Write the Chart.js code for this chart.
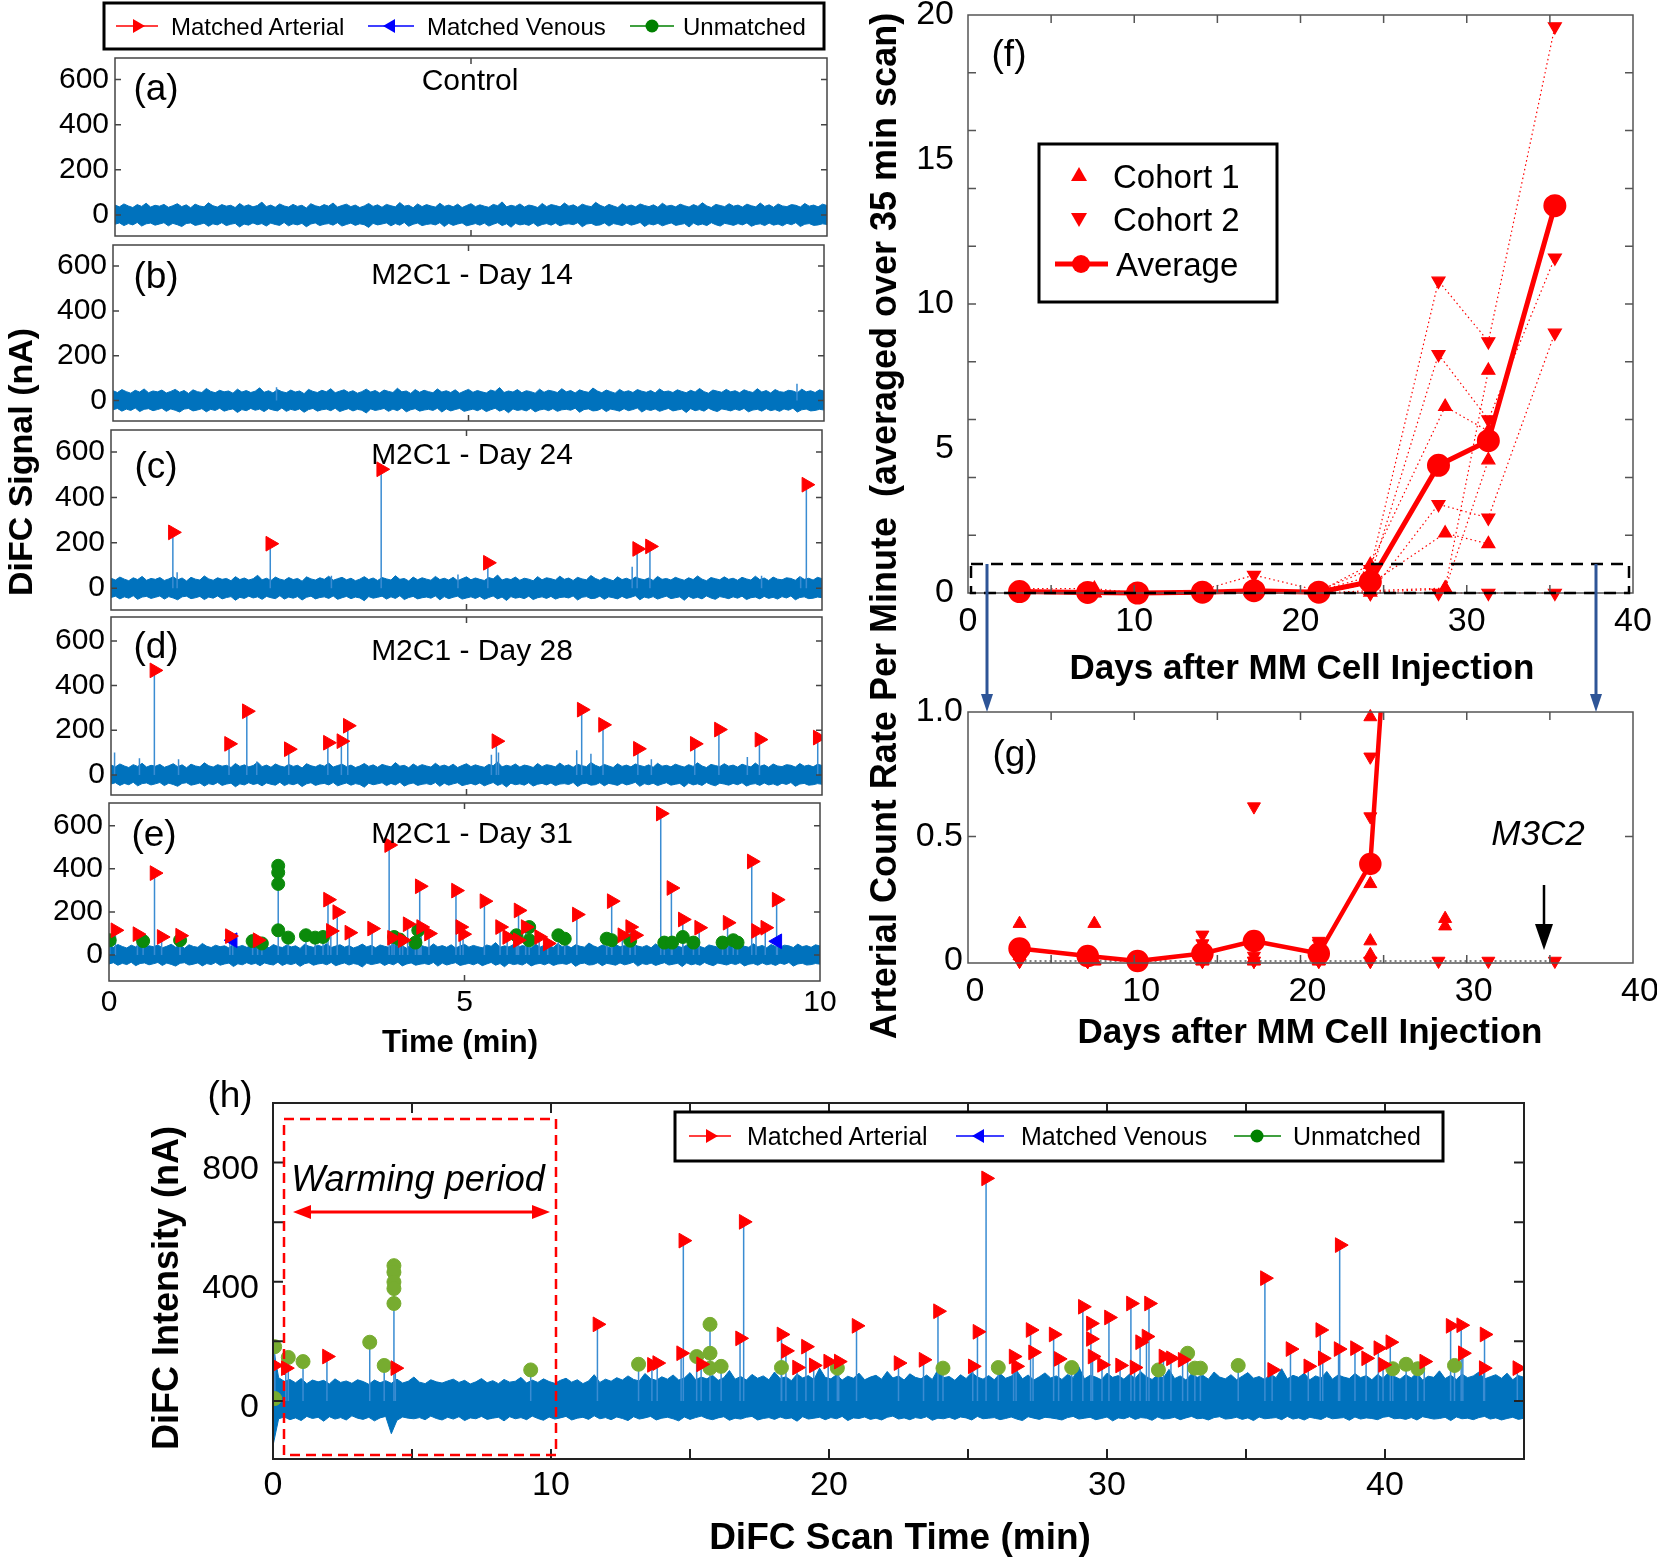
<!DOCTYPE html>
<html>
<head>
<meta charset="utf-8">
<script src="https://cdn.jsdelivr.net/npm/chart.js@4.4.0/dist/chart.umd.min.js"></script>
<style>
  body { margin:0; background:#fff; width:1657px; height:1559px; position:relative; overflow:hidden; }
  canvas { position:absolute; }
  svg { position:absolute; left:0; top:0; }
  svg text { font-family:"Liberation Sans", Arial, Helvetica, sans-serif; fill:#000; }
</style>
</head>
<body>
<canvas id="cA"></canvas>
<canvas id="cB"></canvas>
<canvas id="cC"></canvas>
<canvas id="cD"></canvas>
<canvas id="cE"></canvas>
<canvas id="cF"></canvas>
<canvas id="cG"></canvas>
<canvas id="cH"></canvas>

<svg width="1657" height="1559" viewBox="0 0 1657 1559">
  <!-- legend above (a)-(e) -->
  <rect x="104" y="3" width="720" height="46" fill="#fff" stroke="#000" stroke-width="3"/>
  <line x1="116" y1="26" x2="158" y2="26" stroke="#f00" stroke-width="1.5"/>
  <polygon points="145,26 133,19 133,33" fill="#f00"/>
  <text x="171" y="26" font-size="24" dominant-baseline="central">Matched Arterial</text>
  <line x1="368" y1="26" x2="414" y2="26" stroke="#00f" stroke-width="1.5"/>
  <polygon points="383,26 395,19 395,33" fill="#00f"/>
  <text x="427" y="26" font-size="24" dominant-baseline="central">Matched Venous</text>
  <line x1="630" y1="26" x2="674" y2="26" stroke="#008000" stroke-width="1.5"/>
  <circle cx="652" cy="26" r="6.5" fill="#008000"/>
  <text x="683" y="26" font-size="24" dominant-baseline="central">Unmatched</text>

  <!-- panel letters and titles (a)-(e) -->
  <text x="156" y="87" font-size="37" text-anchor="middle" dominant-baseline="central">(a)</text>
  <text x="470" y="79" font-size="30" text-anchor="middle" dominant-baseline="central">Control</text>
  <text x="156" y="275" font-size="37" text-anchor="middle" dominant-baseline="central">(b)</text>
  <text x="472" y="273" font-size="30" text-anchor="middle" dominant-baseline="central">M2C1 - Day 14</text>
  <text x="156" y="465" font-size="37" text-anchor="middle" dominant-baseline="central">(c)</text>
  <text x="472" y="453" font-size="30" text-anchor="middle" dominant-baseline="central">M2C1 - Day 24</text>
  <text x="156" y="645" font-size="37" text-anchor="middle" dominant-baseline="central">(d)</text>
  <text x="472" y="649" font-size="30" text-anchor="middle" dominant-baseline="central">M2C1 - Day 28</text>
  <text x="154" y="833" font-size="37" text-anchor="middle" dominant-baseline="central">(e)</text>
  <text x="472" y="832" font-size="30" text-anchor="middle" dominant-baseline="central">M2C1 - Day 31</text>
  <text transform="translate(20,462) rotate(-90)" font-size="34" font-weight="bold" text-anchor="middle" dominant-baseline="central">DiFC Signal (nA)</text>
  <text x="460" y="1041" font-size="31" font-weight="bold" text-anchor="middle" dominant-baseline="central">Time (min)</text>

  <!-- (f) / (g) -->
  <text x="1009" y="53" font-size="37" text-anchor="middle" dominant-baseline="central">(f)</text>
  <rect x="971" y="564" width="658" height="29" fill="none" stroke="#000" stroke-width="2.5" stroke-dasharray="12,8"/>
  <rect x="1039" y="144" width="238" height="158" fill="#fff" stroke="#000" stroke-width="3"/>
  <polygon points="1079,167 1071,181 1087,181" fill="#f00"/>
  <text x="1113" y="176" font-size="33" dominant-baseline="central">Cohort 1</text>
  <polygon points="1079,227 1071,213 1087,213" fill="#f00"/>
  <text x="1113" y="219" font-size="33" dominant-baseline="central">Cohort 2</text>
  <line x1="1055" y1="264" x2="1108" y2="264" stroke="#f00" stroke-width="5"/>
  <circle cx="1081" cy="264" r="9" fill="#f00"/>
  <text x="1116" y="264" font-size="33" dominant-baseline="central">Average</text>
  <text x="1302" y="666" font-size="35" font-weight="bold" text-anchor="middle" dominant-baseline="central">Days after MM Cell Injection</text>
  <text transform="translate(883,526) rotate(-90)" font-size="36" font-weight="bold" text-anchor="middle" dominant-baseline="central" xml:space="preserve">Arterial Count Rate Per Minute  (averaged over 35 min scan)</text>
  <g stroke="#2e5597" stroke-width="3" fill="#2e5597">
    <line x1="987" y1="564" x2="987" y2="698"/>
    <polygon points="987,712 981,694 993,694" stroke="none"/>
    <line x1="1596" y1="564" x2="1596" y2="698"/>
    <polygon points="1596,712 1590,694 1602,694" stroke="none"/>
  </g>
  <text x="1015" y="753" font-size="37" text-anchor="middle" dominant-baseline="central">(g)</text>
  <text x="1538" y="832" font-size="35" font-style="italic" text-anchor="middle" dominant-baseline="central">M3C2</text>
  <line x1="1544" y1="885" x2="1544" y2="932" stroke="#000" stroke-width="2.5"/>
  <polygon points="1544,950 1535,924 1553,924" fill="#000"/>
  <text x="1310" y="1030" font-size="35" font-weight="bold" text-anchor="middle" dominant-baseline="central">Days after MM Cell Injection</text>

  <!-- (h) -->
  <text x="230" y="1094" font-size="37" text-anchor="middle" dominant-baseline="central">(h)</text>
  <text transform="translate(165,1288) rotate(-90)" font-size="36" font-weight="bold" text-anchor="middle" dominant-baseline="central">DiFC Intensity (nA)</text>
  <text x="900" y="1536" font-size="37" font-weight="bold" text-anchor="middle" dominant-baseline="central">DiFC Scan Time (min)</text>
  <rect x="284" y="1119" width="272" height="336" fill="none" stroke="#f00" stroke-width="2.5" stroke-dasharray="10,6"/>
  <text x="418" y="1178" font-size="36" font-style="italic" text-anchor="middle" dominant-baseline="central">Warming period</text>
  <g stroke="#f00" stroke-width="3" fill="#f00">
    <line x1="305" y1="1212" x2="538" y2="1212"/>
    <polygon points="293,1212 311,1205 311,1219" stroke="none"/>
    <polygon points="550,1212 532,1205 532,1219" stroke="none"/>
  </g>
  <rect x="675" y="1112" width="768" height="49" fill="#fff" stroke="#000" stroke-width="3"/>
  <line x1="689" y1="1136" x2="731" y2="1136" stroke="#f00" stroke-width="1.5"/>
  <polygon points="718,1136 706,1129 706,1143" fill="#f00"/>
  <text x="747" y="1136" font-size="25" dominant-baseline="central">Matched Arterial</text>
  <line x1="956" y1="1136" x2="1004" y2="1136" stroke="#00f" stroke-width="1.5"/>
  <polygon points="972,1136 984,1129 984,1143" fill="#00f"/>
  <text x="1021" y="1136" font-size="25" dominant-baseline="central">Matched Venous</text>
  <line x1="1234" y1="1136" x2="1281" y2="1136" stroke="#008000" stroke-width="1.5"/>
  <circle cx="1257" cy="1136" r="6.5" fill="#008000"/>
  <text x="1293" y="1136" font-size="25" dominant-baseline="central">Unmatched</text>
</svg>

<script>
// ---------- (a)-(e): signal band around 0 (nA), 0-10 min
var bandHi = [44,36,49,40,33,46,38,52,35,43, 39,47,34,41,50,37,45,32,48,40,
  36,54,41,35,46,39,43,33,51,38, 45,36,42,57,37,44,34,49,40,35,
  47,38,43,31,50,41,36,46,39,53, 35,42,48,37,44,33,40,51,38,45,
  34,47,41,36,55,39,43,32,49,37, 46,40,35,52,38,44,36,48,33,42,
  50,37,45,39,34,47,41,58,36,43, 38,49,35,44,40,33,51,37,46,42,
  36,53,39,45,34,48,41,37,56,43, 35,47,40,33,50,38,44,36,49,42,
  37,45,34,52,39,43,36,48,41,35, 46,38,54,40,33,47,42,37,50,39,
  44,35,48,41,36,53,38,45,34,49, 40,37,46,43,35,51,39,44,36,48, 42];
var bandLo = [-41,-35,-47,-38,-44,-33,-49,-39,-36,-45, -40,-34,-48,-37,-43,-51,-38,-35,-46,-42,
  -36,-50,-39,-44,-34,-47,-41,-37,-53,-40, -45,-35,-43,-38,-49,-36,-42,-46,-33,-48,
  -39,-44,-37,-52,-40,-35,-47,-41,-38,-45, -34,-49,-42,-36,-46,-39,-43,-55,-37,-44,
  -40,-35,-48,-38,-45,-33,-50,-41,-36,-47, -42,-39,-44,-34,-51,-37,-46,-40,-35,-48,
  -43,-38,-45,-36,-49,-41,-34,-47,-39,-54, -37,-44,-40,-46,-35,-50,-42,-38,-45,-36,
  -48,-41,-39,-43,-34,-52,-40,-37,-46,-44, -35,-49,-38,-42,-47,-36,-45,-40,-33,-51,
  -39,-44,-37,-48,-41,-35,-46,-42,-38,-53, -36,-45,-40,-47,-34,-43,-49,-37,-41,-46,
  -38,-44,-35,-50,-42,-39,-47,-36,-45,-40, -48,-37,-43,-34,-51,-41,-38,-46,-44,-39, -42];

var bMinorT = [2.3, 9.62];
var bMinorY = [60, 75];

var cArtT = [0.87, 2.24, 3.80, 5.30, 7.40, 7.58, 9.78];
var cArtY = [246, 196, 524, 112, 173, 184, 456];
var cMinorT = [0.93, 3.1, 4.88, 7.33, 9.15, 9.7];
var cMinorY = [70, 55, 60, 95, 55, 50];

var dArtT = [0.61, 1.66, 1.91, 2.50, 3.05, 3.24, 3.33, 5.42, 6.62, 6.92, 7.41, 8.21, 8.55, 9.12, 9.94];
var dArtY = [468, 139, 285, 115, 144, 151, 220, 151, 292, 224, 117, 139, 203, 158, 167];
var dMinorT = [0.05, 0.4, 0.95, 2.05, 5.35, 5.45, 6.55, 6.75, 7.6, 8.95];
var dMinorY = [100, 75, 70, 60, 90, 100, 110, 95, 70, 80];

var eArtT = [0.09, 0.40, 0.64, 0.74, 1.00, 1.70, 2.09, 3.08, 3.21, 3.12, 3.38, 3.70, 3.94, 3.98, 4.13,
  4.20, 4.37, 4.39, 4.50, 4.88, 4.94, 4.98, 5.28, 5.50, 5.60, 5.75, 5.76, 5.86, 6.05, 6.17,
  6.58, 7.07, 7.22, 7.33, 7.40, 7.76, 7.91, 8.07, 8.30, 8.70, 9.04, 9.10, 9.23, 9.39];
var eArtY = [115, 97, 380, 84, 90, 88, 69, 257, 199, 112, 104, 123, 510, 80, 69,
  143, 319, 130, 100, 299, 130, 97, 250, 130, 84, 69, 207, 130, 84, 54,
  188, 250, 92, 130, 92, 656, 311, 165, 127, 150, 434, 112, 127, 257];
var eVenT = [1.74, 9.40];
var eVenY = [69, 64];
var eUnT = [0.01, 0.48, 1.00, 2.02, 2.15, 2.38, 2.38, 2.38, 2.38, 2.52, 2.77, 2.90, 3.01, 4.01, 4.09, 4.31,
  4.35, 5.73, 5.91, 5.91, 6.32, 6.41, 7.00, 7.07, 7.33, 7.81, 7.92, 8.07, 8.22, 8.63, 8.78, 8.84];
var eUnY = [69, 65, 69, 65, 54, 414, 383, 330, 115, 81, 92, 81, 84, 84, 72, 58,
  115, 92, 130, 69, 92, 76, 76, 69, 67, 58, 58, 84, 58, 58, 69, 58];

// ---------- (f)/(g): arterial count rate (per min) vs day
var daysC1 = [3.1, 7.6, 10.2, 14.1, 17.2, 21.1, 24.2, 28.7, 31.3];
var daysC2 = [3.1, 7.2, 10.2, 14.1, 17.2, 21.1, 24.2, 28.3, 31.3, 35.3];
var cohort1 = [
  [0.15, 0.15, 0, 0, 0, 0.05, 0.98, 6.45, 5.6],
  [0.06, 0, 0, 0.01, 0.01, 0, 0.31, 2.07, 1.7],
  [0.03, 0, 0, 0, 0, 0, 0.08, 0.17, 7.7],
  [0.02, 0, 0, 0, 0, 0, 0.025, 0.14, 4.6]
];
var cohort2 = [
  [0.05, 0, 0, 0.105, 0.62, 0.08, 0.82, 10.8, 8.7, 19.6],
  [0.02, 0, 0, 0.07, 0.02, 0.07, 0.58, 8.26, 6.0, 11.6],
  [0, 0, 0, 0, 0, 0, 0, 3.07, 2.6, 9.0],
  [0, 0, 0, 0, 0, 0, 0, 0, 0, 0]
];
var avgDays = [3.1, 7.2, 10.2, 14.1, 17.2, 21.1, 24.2, 28.3, 31.3, 35.3];
var avgRate = [0.05, 0.02, 0, 0.03, 0.08, 0.03, 0.39, 4.42, 5.27, 13.4];
var zeroLineDays = [3.1, 35.3];
var zeroLineVal = [0, 0];

// ---------- (h): 45 min scan
var hHi = [185,78,66,72,61,75,58,70,64,69, 57,74,62,67,59,71,65,56,70,61,
  68,59,73,60,66,80,63,58,71,64, 60,67,73,62,69,57,64,75,61,68,
  58,72,63,66,79,60,70,62,74,65, 59,69,76,63,71,58,67,88,62,73,
  66,78,70,84,72,67,92,75,69,81, 73,87,70,77,95,71,80,74,86,69,
  78,102,73,82,70,89,76,84,71,97, 75,81,68,90,77,85,72,110,79,74,
  88,70,83,76,93,71,80,86,73,99, 77,84,70,91,79,74,87,72,105,78,
  82,69,88,75,95,80,73,85,71,92, 76,83,101,74,87,70,81,94,77,84,
  72,89,78,115,74,86,80,71,93,79, 85,73,90,76,98,81,72,87,77,106,
  75,84,70,91,79,86,73,97,80,74, 88,71,83,95,76,82,72,90,78,108,
  74,86,79,93,71,84,77,99,73,87, 80,75,92,78,85,71,89,76,96,82,
  73,88,77,94,70,83,79,101,75,86, 72,90,78,84,97,74,81,88,76,93, 71,85,79];
var hLo = [-150,-60,-54,-63,-57,-66,-52,-59,-55,-68, -53,-61,-56,-64,-50,-58,-62,-55,-67,-57,
  -52,-110,-65,-54,-58,-60,-56,-63,-51,-59, -64,-55,-61,-53,-66,-57,-60,-52,-62,-58,
  -55,-67,-53,-60,-56,-63,-51,-59,-65,-54, -61,-57,-52,-64,-58,-55,-62,-50,-60,-56,
  -63,-54,-59,-66,-53,-61,-57,-52,-64,-58, -55,-60,-67,-54,-62,-56,-51,-59,-63,-57,
  -53,-65,-58,-61,-55,-52,-64,-59,-56,-62, -54,-60,-57,-68,-53,-61,-58,-55,-63,-56,
  -60,-52,-66,-57,-59,-54,-62,-58,-64,-55, -51,-61,-57,-63,-56,-59,-53,-65,-58,-60,
  -55,-62,-54,-57,-64,-52,-60,-58,-56,-63, -59,-54,-61,-66,-53,-58,-62,-55,-57,-60,
  -64,-56,-52,-61,-58,-55,-63,-59,-54,-67, -57,-60,-53,-62,-56,-58,-65,-54,-61,-59,
  -55,-63,-57,-52,-60,-58,-64,-56,-53,-61, -59,-55,-62,-57,-66,-54,-60,-58,-56,-63,
  -52,-61,-57,-64,-55,-59,-62,-53,-60,-58, -56,-65,-54,-61,-57,-59,-63,-55,-52,-60,
  -58,-62,-56,-64,-53,-57,-61,-59,-55,-66, -54,-60,-58,-63,-56,-52,-61,-57,-64,-59, -55,-62,-58];
var hArtT = [0.06, 0.46, 1.94, 4.40, 11.67, 13.63, 13.82, 14.68, 14.76, 15.40, 16.80, 16.93, 18.29, 18.45, 18.85,
  19.17, 19.45, 19.97, 20.35, 20.99, 22.50, 23.40, 23.92, 25.17, 25.34, 25.65, 26.64, 26.73, 27.25, 27.34,
  28.08, 28.26, 29.13, 29.42, 29.42, 29.48, 29.82, 30.07, 30.47, 30.86, 30.99, 31.19, 31.42, 31.51, 32.03,
  32.30, 32.72, 35.68, 35.94, 36.60, 37.24, 37.67, 37.76, 38.33, 38.37, 38.92, 39.32, 39.76, 39.93, 40.19,
  41.41, 42.36, 42.74, 42.80, 43.55, 43.58, 44.76];
var hArtY = [119, 110, 149, 110, 257, 121, 127, 160, 538, 123, 210, 601, 223, 168, 112,
  182, 119, 132, 132, 252, 127, 138, 301, 116, 232, 747, 149, 116, 238, 163,
  223, 141, 316, 260, 208, 149, 121, 280, 119, 327, 112, 197, 216, 327, 149,
  143, 138, 412, 104, 174, 116, 238, 143, 174, 523, 177, 143, 177, 121, 197,
  132, 252, 254, 160, 110, 223, 110];
var hUnT = [0.06, 0.55, 1.08, 3.48, 4.00, 4.35, 4.35, 4.35, 4.35, 4.35, 9.27, 0.06, 13.15, 15.72, 15.72, 15.24,
  15.72, 16.12, 18.29, 20.30, 24.10, 26.09, 28.73, 31.85, 32.90, 33.16, 33.36, 34.72, 40.28, 40.76, 41.18, 42.50];
var hUnY = [182, 146, 132, 197, 119, 454, 432, 399, 377, 327, 104, 8, 123, 257, 160, 149,
  110, 116, 112, 110, 110, 112, 112, 104, 160, 110, 110, 119, 108, 123, 108, 119];

// ---------- helpers
var RED = '#ff0000', BLUE = '#0000ff', BAND = '#0072bd', SPIKE = '#3a8cd2';

var framePlugin = {
  id: 'frame',
  afterDatasetsDraw: function (chart, args, o) {
    var ctx = chart.ctx, a = chart.chartArea, x = chart.scales.x, y = chart.scales.y;
    var L = o.len || 7;
    ctx.save();
    ctx.strokeStyle = o.color || '#333';
    ctx.lineWidth = o.lw || 1.5;
    ctx.strokeRect(a.left, a.top, a.right - a.left, a.bottom - a.top);
    ctx.beginPath();
    (o.xMarks || []).forEach(function (v) {
      var p = x.getPixelForValue(v);
      ctx.moveTo(p, a.bottom); ctx.lineTo(p, a.bottom - L);
      ctx.moveTo(p, a.top); ctx.lineTo(p, a.top + L);
    });
    (o.yMarks || []).forEach(function (v) {
      var p = y.getPixelForValue(v);
      ctx.moveTo(a.left, p); ctx.lineTo(a.left + L, p);
      ctx.moveTo(a.right, p); ctx.lineTo(a.right - L, p);
    });
    ctx.stroke();
    ctx.restore();
  }
};
Chart.register(framePlugin);

function pts(xs, ys) {
  return xs.map(function (x, i) { return { x: x, y: ys[i] }; });
}
function spikes(xs, ys, base) {
  var d = [];
  xs.forEach(function (x, i) {
    d.push({ x: x, y: base }, { x: x, y: ys[i] }, { x: x, y: null });
  });
  return d;
}
// samples of the recorded band are evenly spaced over the scan
function bandSets(vals, span) {
  var n = vals.length;
  return vals.map(function (v, i) { return { x: i * span / (n - 1), y: v }; });
}
function markers(data, style, rot, r, color, extra) {
  var ds = {
    data: data, showLine: false, pointStyle: style, rotation: rot, pointRadius: r,
    pointBackgroundColor: color, pointBorderColor: color, pointBorderWidth: 1
  };
  for (var k in extra) ds[k] = extra[k];
  return ds;
}
function signalSets(band, spikeList, marks, bandColor, spikeColor) {
  var sets = marks.slice();
  spikeList.forEach(function (s) {
    sets.push({ data: s, borderColor: spikeColor, borderWidth: 1.5, pointRadius: 0, spanGaps: false });
  });
  sets.push({ data: band[0], borderColor: bandColor, borderWidth: 1, pointRadius: 0, fill: false });
  sets.push({ data: band[1], borderColor: bandColor, borderWidth: 1, pointRadius: 0, fill: '-1', backgroundColor: bandColor });
  return sets;
}

function panel(id, box, c) {
  var cv = document.getElementById(id);
  var padT = 40, padR = 40, padB = c.xTicks ? 0 : 40;
  var axisW = c.axisW, axisH = c.xTicks ? c.axisH : 0;
  var w = box[2] - box[0] + axisW + padR;
  var h = box[3] - box[1] + padT + padB + axisH;
  cv.width = w; cv.height = h;
  cv.style.width = w + 'px'; cv.style.height = h + 'px';
  cv.style.left = (box[0] - axisW) + 'px';
  cv.style.top = (box[1] - padT) + 'px';
  var font = { family: '"Liberation Sans", Arial, sans-serif', size: c.fontSize };
  var xLab = c.xLabels || [];
  return new Chart(cv, {
    type: 'line',
    data: { datasets: c.datasets },
    options: {
      responsive: false, animation: false, events: [],
      layout: { padding: { top: padT, right: padR, bottom: padB, left: 0 } },
      plugins: {
        legend: { display: false }, tooltip: { enabled: false },
        frame: { xMarks: c.xMarks, yMarks: c.yMarks, len: c.markLen, color: c.frameColor, lw: c.frameW }
      },
      scales: {
        x: {
          type: 'linear', min: c.xRange[0], max: c.xRange[1], display: !!c.xTicks,
          grid: { display: false, drawTicks: false }, border: { display: false },
          afterBuildTicks: function (s) { if (c.xTicks) s.ticks = c.xTicks.map(function (v) { return { value: v }; }); },
          afterFit: function (s) { s.height = axisH; },
          ticks: { font: font, color: '#000', padding: c.xPad || 4, maxRotation: 0, autoSkip: false,
            labelOffset: c.xLabelOffset || 0,
            callback: function (v, i) { return xLab[i] !== undefined ? xLab[i] : ''; } }
        },
        y: {
          type: 'linear', min: c.yRange[0], max: c.yRange[1],
          grid: { display: false, drawTicks: false }, border: { display: false },
          afterBuildTicks: function (s) { s.ticks = c.yTicks.map(function (v) { return { value: v }; }); },
          afterFit: function (s) { s.width = axisW; },
          ticks: { font: font, color: '#000', padding: c.yPad || 6, autoSkip: false,
            labelOffset: c.yLabelOffset || 0,
            callback: function (v, i) { return c.yLabels[i] !== undefined ? c.yLabels[i] : ''; } }
        }
      }
    }
  });
}

// ---------- panels (a)-(e)
var bandAE = [bandSets(bandHi, 10), bandSets(bandLo, 10)];
var aeTicks = [0, 200, 400, 600];
var aeLabels = ['0', '200', '400', '600'];
function aeCfg(datasets, yRange, withX) {
  var c = {
    datasets: datasets, xRange: [0, 10], yRange: yRange,
    yTicks: aeTicks, yLabels: aeLabels, axisW: 80, fontSize: 30, yPad: 6,
    xMarks: [5], yMarks: aeTicks, markLen: 6, frameColor: '#444', frameW: 1.5
  };
  if (withX) { c.xTicks = [0, 5, 10]; c.xLabels = ['0', '5', '10']; c.axisH = 45; c.xPad = 4; }
  return c;
}
var triR = function (data) { return markers(data, 'triangle', 90, 8.5, RED); };

panel('cA', [115, 58, 827, 236], aeCfg(signalSets(bandAE, [], [], BAND, SPIKE), [-93, 695]));
panel('cB', [113, 245, 824, 421], aeCfg(signalSets(bandAE, [spikes(bMinorT, bMinorY, 0)], [], BAND, SPIKE), [-91, 694]));
panel('cC', [111, 430, 822, 610], aeCfg(signalSets(bandAE,
  [spikes(cArtT, cArtY, 0), spikes(cMinorT, cMinorY, 0)],
  [triR(pts(cArtT, cArtY))], BAND, SPIKE), [-96, 697]));
panel('cD', [111, 617, 822, 795], aeCfg(signalSets(bandAE,
  [spikes(dArtT, dArtY, 0), spikes(dMinorT, dMinorY, 0)],
  [triR(pts(dArtT, dArtY))], BAND, SPIKE), [-90, 707]));
panel('cE', [109, 803, 820, 981], aeCfg(signalSets(bandAE,
  [spikes(eArtT, eArtY, 0), spikes(eUnT, eUnY, 0), spikes(eVenT, eVenY, 0)],
  [triR(pts(eArtT, eArtY)),
   markers(pts(eVenT, eVenY), 'triangle', -90, 8.5, BLUE),
   markers(pts(eUnT, eUnY), 'circle', 0, 6.5, '#0b8a0b')], BAND, SPIKE), [-120, 705], true));

// ---------- panel (f)
var fClip = { left: 12, top: 12, right: 12, bottom: 14 };
var fSets = [];
fSets.push({ data: pts(avgDays, avgRate), borderColor: RED, borderWidth: 5, pointStyle: 'circle', pointRadius: 9,
  pointBackgroundColor: RED, pointBorderColor: RED, clip: fClip });
cohort1.forEach(function (m) {
  fSets.push({ data: pts(daysC1, m), borderColor: RED, borderWidth: 1.2, borderDash: [1.5, 3],
    pointStyle: 'triangle', rotation: 0, pointRadius: 7.5, pointBackgroundColor: RED, pointBorderColor: RED, clip: fClip });
});
cohort2.forEach(function (m) {
  fSets.push({ data: pts(daysC2, m), borderColor: RED, borderWidth: 1.2, borderDash: [1.5, 3],
    pointStyle: 'triangle', rotation: 180, pointRadius: 7.5, pointBackgroundColor: RED, pointBorderColor: RED, clip: fClip });
});
panel('cF', [968, 15, 1633, 593], {
  datasets: fSets, xRange: [0, 40], yRange: [0, 20],
  xTicks: [0, 10, 20, 30, 40], xLabels: ['0', '10', '20', '30', '40'], axisH: 50, xPad: 8,
  yTicks: [0, 5, 10, 15, 20], yLabels: ['0', '5', '10', '15', '20'], axisW: 90, yPad: 14, fontSize: 34,
  xMarks: [5, 10, 15, 20, 25, 30, 35], yMarks: [2, 4, 6, 8, 10, 12, 14, 16, 18], markLen: 8, frameColor: '#555', frameW: 1.5
});

// ---------- panel (g)
var gClip = { left: 12, top: 6, right: 12, bottom: 14 };
var gSets = [];
gSets.push({ data: pts(avgDays, avgRate), borderColor: RED, borderWidth: 4.5, pointStyle: 'circle', pointRadius: 9,
  pointBackgroundColor: RED, pointBorderColor: RED, clip: { left: 12, top: 0, right: 12, bottom: 14 } });
cohort1.forEach(function (m) {
  gSets.push(markers(pts(daysC1, m), 'triangle', 0, 7.5, RED, { clip: gClip }));
});
cohort2.forEach(function (m) {
  gSets.push(markers(pts(daysC2, m), 'triangle', 180, 7.5, RED, { clip: gClip }));
});
gSets.push({ data: pts(zeroLineDays, zeroLineVal), borderColor: '#000', borderWidth: 1, borderDash: [2, 3], pointRadius: 0 });
panel('cG', [968, 712, 1633, 963], {
  datasets: gSets, xRange: [0, 40], yRange: [-0.008, 1.0],
  xTicks: [0, 10, 20, 30, 40], xLabels: ['0', '10', '20', '30', '40'], axisH: 50, xPad: 8, xLabelOffset: 7,
  yTicks: [0, 0.5, 1.0], yLabels: ['0', '0.5', '1.0'], axisW: 90, yPad: 5, fontSize: 34,
  xMarks: [5, 10, 15, 20, 25, 30, 35], yMarks: [0.5], markLen: 8, frameColor: '#555', frameW: 1.5
});

// ---------- panel (h)
var bandH = [bandSets(hHi, 45), bandSets(hLo, 45)];
panel('cH', [273, 1103, 1524, 1459], {
  datasets: signalSets(bandH,
    [spikes(hArtT, hArtY, 0), spikes(hUnT, hUnY, 0)],
    [markers(pts(hArtT, hArtY), 'triangle', 90, 8.5, RED),
     markers(pts(hUnT, hUnY), 'circle', 0, 7, '#77ac30')], BAND, SPIKE),
  xRange: [0, 45], yRange: [-195, 1000],
  xTicks: [0, 10, 20, 30, 40], xLabels: ['0', '10', '20', '30', '40'], axisH: 50, xPad: 6,
  yTicks: [0, 400, 800], yLabels: ['0', '400', '800'], axisW: 100, yPad: 14, fontSize: 34, yLabelOffset: 7,
  xMarks: [5, 10, 15, 20, 25, 30, 35, 40], yMarks: [0, 200, 400, 600, 800], markLen: 10, frameColor: '#222', frameW: 2
});
</script>
</body>
</html>
